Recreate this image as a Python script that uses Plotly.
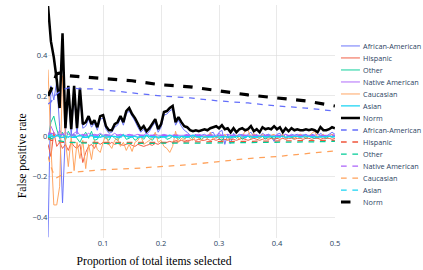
import plotly.graph_objects as go

# ---------------- data ----------------
x_sel = [0.005, 0.01, 0.015, 0.02, 0.025, 0.03, 0.035, 0.04, 0.045, 0.05,
         0.055, 0.06, 0.065, 0.07, 0.075, 0.08, 0.085, 0.09, 0.095, 0.1,
         0.105, 0.11, 0.115, 0.12, 0.125, 0.13, 0.135, 0.14, 0.145, 0.15,
         0.155, 0.16, 0.165, 0.17, 0.175, 0.18, 0.185, 0.19, 0.195, 0.2,
         0.205, 0.21, 0.215, 0.22, 0.225, 0.23, 0.235, 0.24, 0.245, 0.25,
         0.255, 0.26, 0.265, 0.27, 0.275, 0.28, 0.285, 0.29, 0.295, 0.3,
         0.305, 0.31, 0.315, 0.32, 0.325, 0.33, 0.335, 0.34, 0.345, 0.35,
         0.355, 0.36, 0.365, 0.37, 0.375, 0.38, 0.385, 0.39, 0.395, 0.4,
         0.405, 0.41, 0.415, 0.42, 0.425, 0.43, 0.435, 0.44, 0.445, 0.45,
         0.455, 0.46, 0.465, 0.47, 0.475, 0.48, 0.485, 0.49, 0.495, 0.5]

african_american = [-0.50, 0.25, 0.18, 0.27, 0.05, -0.33, 0.02, 0.22, 0.00, 0.22,
                    0.01, 0.21, 0.04, 0.05, 0.085, 0.045, 0.065, 0.03, 0.085, 0.09,
                    0.035, 0.015, 0.02, 0.045, 0.055, 0.09, 0.055, 0.11, 0.125, 0.10,
                    0.075, 0.045, 0.02, 0.035, 0.01, 0.025, 0.05, 0.07, 0.02, 0.045,
                    0.105, 0.11, 0.125, 0.135, 0.055, 0.08, 0.05, 0.03, 0.02, 0.005,
                    0.0, 0.01, -0.005, 0.005, 0.01, 0.0, 0.015, 0.02, -0.01, 0.02,
                    0.03, -0.04, 0.01, -0.035, 0.015, 0.0, 0.01, 0.005, -0.01, 0.01,
                    0.02, 0.0, 0.01, -0.005, 0.015, 0.005, 0.01, 0.0, -0.025, 0.01,
                    0.015, -0.005, 0.01, 0.0, 0.01, 0.005, 0.01, 0.0, 0.005, 0.01,
                    0.0, 0.01, 0.005, -0.01, 0.015, 0.005, 0.0, 0.01, 0.02, 0.01]

hispanic = [-0.04, -0.10, 0.02, -0.05, -0.03, -0.06, -0.04, -0.07, -0.03, -0.05,
            -0.06, -0.04, -0.13, -0.08, -0.05, -0.04, -0.06, -0.03, -0.04, -0.03,
            -0.035, -0.04, -0.03, -0.04, -0.035, -0.04, -0.045, -0.04, -0.035, -0.045,
            -0.05, -0.04, -0.045, -0.05, -0.045, -0.04, -0.045, -0.035, -0.04, -0.03,
            -0.035, -0.03, -0.025, -0.03, -0.02, -0.025, -0.02, -0.025, -0.02, -0.02,
            -0.015, -0.02, -0.015, -0.02, -0.02, -0.015, -0.02, -0.015, -0.02, -0.015,
            -0.02, -0.015, -0.02, -0.015, -0.015, -0.02, -0.015, -0.01, -0.015, -0.02,
            -0.015, -0.01, -0.015, -0.02, -0.015, -0.01, -0.015, -0.01, -0.015, -0.01,
            -0.015, -0.01, -0.015, -0.01, -0.01, -0.015, -0.01, -0.01, -0.015, -0.01,
            -0.01, -0.015, -0.01, -0.01, -0.015, -0.01, -0.01, -0.01, -0.015, -0.01]

other = [-0.02, 0.07, 0.10, 0.035, -0.01, 0.02, -0.02, 0.025, 0.0, 0.01,
         -0.01, -0.03, 0.0, 0.02, -0.01, 0.025, -0.02, -0.015, 0.01, 0.0,
         -0.01, -0.02, 0.005, -0.01, -0.02, 0.0, 0.01, -0.015, -0.01, 0.0,
         -0.02, -0.01, 0.0, -0.015, 0.005, -0.01, -0.02, 0.0, -0.01, -0.005,
         0.0, -0.015, -0.01, 0.0, -0.005, -0.015, 0.0, -0.01, -0.005, 0.0,
         -0.01, 0.005, -0.005, -0.015, 0.0, -0.01, 0.01, -0.005, 0.0, -0.01,
         -0.02, 0.0, -0.005, -0.01, 0.005, -0.01, 0.0, -0.015, -0.005, 0.0,
         -0.01, 0.0, -0.005, -0.01, 0.0, -0.015, 0.0, -0.005, -0.01, 0.0,
         -0.005, 0.005, -0.01, 0.0, -0.005, -0.01, 0.0, -0.005, 0.0, -0.01,
         0.0, -0.005, -0.01, 0.0, -0.005, 0.0, -0.01, 0.0, -0.005, 0.0]

native_american = [0.0, 0.05, 0.02, 0.0, 0.03, 0.01, 0.02, 0.01, 0.005, 0.015,
                   0.025, 0.005, 0.01, 0.005, 0.015, 0.005, 0.01, 0.005, 0.015, 0.005,
                   0.01, 0.005, 0.005, 0.015, 0.005, 0.01, 0.005, 0.005, 0.01, 0.005,
                   0.005, 0.01, 0.005, 0.005, 0.015, 0.005, 0.005, 0.01, 0.005, 0.005,
                   0.01, 0.005, 0.005, 0.005, 0.01, 0.005, 0.005, 0.005, 0.01, 0.005,
                   0.005, 0.005, 0.01, 0.005, 0.005, 0.005, 0.01, 0.005, 0.005, 0.015,
                   0.005, 0.005, 0.01, 0.005, 0.005, 0.005, 0.005, 0.01, 0.005, 0.005,
                   0.005, 0.01, 0.005, 0.005, 0.005, 0.005, 0.01, 0.005, 0.005, 0.005,
                   0.005, 0.005, 0.01, 0.005, 0.005, 0.005, 0.005, 0.01, 0.005, 0.005,
                   0.005, 0.005, 0.005, 0.01, 0.005, 0.005, 0.005, 0.005, 0.01, 0.005]

caucasian = [0.33, -0.05, -0.34, -0.34, -0.25, 0.30, -0.02, -0.15, 0.0, -0.17,
             -0.03, -0.11, -0.02, -0.16, -0.04, -0.115, -0.02, -0.065, -0.08, -0.03,
             0.01, -0.04, -0.06, -0.02, -0.01, -0.05, -0.03, -0.07, -0.04, -0.075,
             -0.03, -0.02, 0.005, -0.04, -0.03, -0.02, -0.01, 0.02, -0.03, -0.02,
             -0.05, -0.06, -0.08, -0.05, 0.025, -0.03, -0.01, -0.02, 0.0, -0.01,
             -0.02, 0.0, -0.01, -0.02, 0.0, -0.01, 0.02, -0.015, -0.005, 0.0,
             -0.01, 0.01, -0.02, 0.0, -0.01, 0.005, -0.015, 0.0, 0.025, 0.03,
             -0.005, 0.015, 0.0, -0.01, 0.01, 0.0, -0.01, 0.005, 0.01, -0.005,
             0.0, 0.01, -0.01, 0.0, 0.005, -0.01, 0.0, 0.01, 0.0, -0.005,
             0.0, 0.015, 0.025, -0.005, 0.0, 0.01, -0.005, 0.0, 0.01, 0.0]

asian = [0.0, 0.01, -0.005, 0.005, 0.0, 0.01, 0.0, -0.005, 0.005, 0.0,
         0.0, 0.005, 0.0, -0.005, 0.0, 0.005, 0.0, 0.0, -0.005, 0.0,
         0.005, 0.0, 0.0, 0.0, -0.005, 0.0, 0.005, 0.0, 0.0, 0.0,
         0.0, -0.005, 0.0, 0.0, 0.005, 0.0, 0.0, 0.0, -0.005, 0.0,
         0.0, 0.0, 0.005, 0.0, 0.0, -0.005, 0.0, 0.0, 0.0, 0.0,
         0.005, 0.0, 0.0, 0.0, -0.005, 0.0, 0.0, 0.0, 0.0, 0.005,
         0.0, 0.0, -0.005, 0.0, 0.0, 0.0, 0.0, 0.005, 0.0, 0.0,
         0.0, -0.005, 0.0, 0.0, 0.0, 0.0, 0.005, 0.0, 0.0, 0.0,
         0.0, 0.0, -0.005, 0.0, 0.0, 0.0, 0.0, 0.0, 0.005, 0.0,
         0.0, 0.0, 0.0, -0.005, 0.0, 0.0, 0.0, 0.0, 0.0, 0.0]

norm = [0.645, 0.47, 0.39, 0.28, 0.14, 0.51, 0.04, 0.25, 0.035, 0.25,
        0.04, 0.24, 0.06, 0.07, 0.10, 0.06, 0.08, 0.045, 0.10, 0.105,
        0.05, 0.03, 0.03, 0.06, 0.07, 0.10, 0.07, 0.125, 0.14, 0.11,
        0.09, 0.06, 0.035, 0.05, 0.025, 0.04, 0.065, 0.085, 0.035, 0.06,
        0.12, 0.125, 0.14, 0.15, 0.07, 0.095, 0.07, 0.05, 0.045, 0.03,
        0.025, 0.03, 0.025, 0.03, 0.035, 0.03, 0.04, 0.045, 0.05, 0.04,
        0.055, 0.035, 0.04, 0.02, 0.04, 0.02, 0.035, 0.04, 0.03, 0.035,
        0.05, 0.025, 0.035, 0.02, 0.045, 0.035, 0.04, 0.035, 0.05, 0.035,
        0.045, 0.02, 0.04, 0.025, 0.04, 0.03, 0.035, 0.03, 0.03, 0.035,
        0.03, 0.035, 0.03, 0.02, 0.045, 0.03, 0.03, 0.035, 0.045, 0.04]

# cumulative (smooth) curves
x_cum = [0.005, 0.01, 0.015, 0.02, 0.03, 0.04, 0.06, 0.08, 0.1, 0.15,
         0.2, 0.25, 0.3, 0.35, 0.4, 0.45, 0.5]
african_american_cum = [0.16, 0.17, 0.19, 0.21, 0.23, 0.24, 0.235, 0.235, 0.23, 0.215,
                        0.2, 0.19, 0.175, 0.165, 0.15, 0.14, 0.125]
hispanic_cum = [-0.01, -0.02, -0.02, -0.025, -0.03, -0.03, -0.032, -0.032, -0.032, -0.03,
                -0.03, -0.028, -0.026, -0.025, -0.023, -0.022, -0.02]
other_cum = [0.0, -0.01, -0.015, -0.02, -0.025, -0.03, -0.033, -0.035, -0.035, -0.035,
             -0.035, -0.034, -0.033, -0.031, -0.03, -0.028, -0.025]
native_american_cum = [0.01, 0.015, 0.01, 0.01, 0.008, 0.006, 0.006, 0.005, 0.005, 0.005,
                       0.005, 0.004, 0.004, 0.004, 0.003, 0.003, 0.003]
caucasian_cum = [-0.10, -0.15, -0.19, -0.205, -0.19, -0.18, -0.175, -0.17, -0.165, -0.16,
                 -0.15, -0.14, -0.125, -0.11, -0.1, -0.087, -0.072]
asian_cum = [0.0, 0.0, -0.005, -0.005, -0.005, -0.005, -0.005, -0.005, -0.005, -0.005,
             -0.005, -0.004, -0.004, -0.004, -0.003, -0.003, -0.003]
norm_cum = [0.20, 0.23, 0.27, 0.31, 0.315, 0.30, 0.295, 0.29, 0.285, 0.275,
            0.255, 0.245, 0.225, 0.205, 0.19, 0.175, 0.15]

group_names = ["African-American", "Hispanic", "Other", "Native American",
               "Caucasian", "Asian", "Norm"]
group_colors = ["#636efa", "#EF553B", "#00cc96", "#ab63fa", "#FFA15A", "#19d3f3", "black"]
solid_widths = [1.5, 1.5, 1.5, 1.5, 1.5, 2, 4]
per_point = [african_american, hispanic, other, native_american, caucasian, asian, norm]
cumulative = [african_american_cum, hispanic_cum, other_cum, native_american_cum,
              caucasian_cum, asian_cum, norm_cum]

x_title = "Proportion of total items selected"
y_title = "False positive rate"

# ---------------- figure ----------------
fig = go.Figure()
for name, color, lw, ys in zip(group_names, group_colors, solid_widths, per_point):
    fig.add_trace(go.Scatter(x=x_sel, y=ys, mode="lines", name=name,
                             line=dict(color=color, width=lw)))
for name, color, ys in zip(group_names, group_colors, cumulative):
    fig.add_trace(go.Scatter(x=x_cum, y=ys, mode="lines", name=name,
                             line=dict(color=color, width=5 if name == "Norm" else 2,
                                       dash="dash")))

W, H, S = 669, 427, 0.632
serif = "Liberation Serif, Times New Roman, serif"
fig.update_layout(
    template="plotly_white",
    width=W, height=H,
    margin=dict(l=76, r=139, t=8, b=50, autoexpand=False),
    showlegend=True,
    legend=dict(x=1.01, y=0.49, yanchor="middle", font=dict(size=11.5)),
    xaxis=dict(range=[0.005, 0.5], showgrid=True, gridcolor="#dcdcdc", zeroline=False,
               automargin=False),
    yaxis=dict(range=[-0.505, 0.65], showgrid=True, gridcolor="#dcdcdc",
               zerolinecolor="#dcdcdc", automargin=False,
               tickvals=[-0.4, -0.2, 0, 0.2, 0.4]),
    annotations=[
        dict(text=x_title, xref="paper", yref="paper", x=0.369, y=-0.098,
             xanchor="center", yanchor="middle", showarrow=False,
             font=dict(family=serif, size=18.5, color="black")),
        dict(text=y_title, xref="paper", yref="paper", x=-0.091, y=0.355,
             xanchor="center", yanchor="middle", textangle=-90, showarrow=False,
             font=dict(family=serif, size=18.5, color="black")),
    ],
)

post = """
document.documentElement.style.overflow='hidden';
document.body.style.margin='0';
document.body.style.overflow='hidden';
var gd=document.getElementById('{plot_id}');
gd.style.transformOrigin='0 0';
gd.style.transform='scale(%s)';
""" % S

fig.write_html("out.html", config={"displayModeBar": False}, post_script=post)
